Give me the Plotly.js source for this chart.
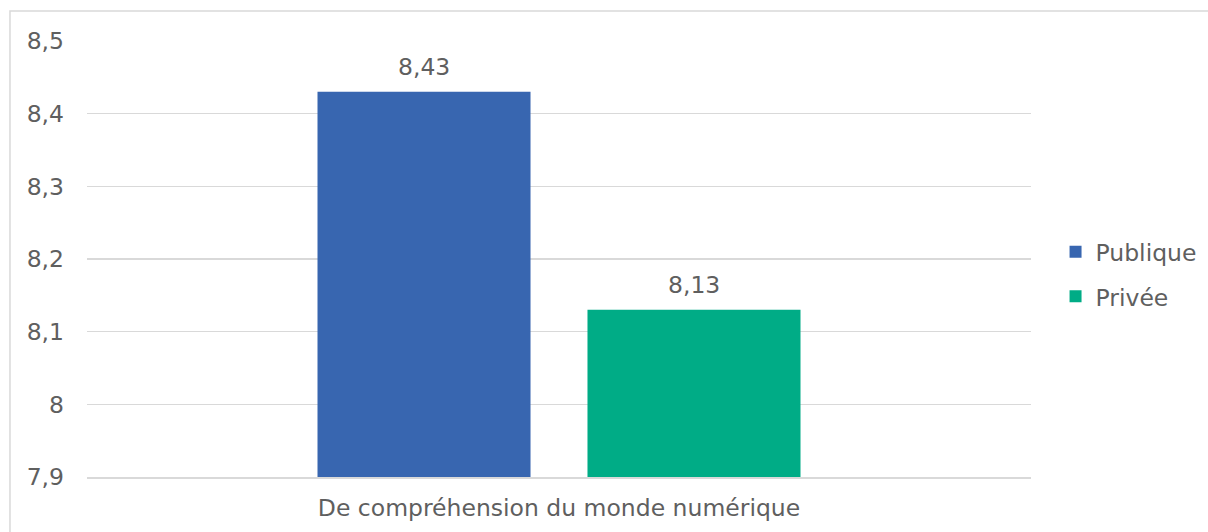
<!DOCTYPE html>
<html><head><meta charset="utf-8">
<script src="https://cdn.plot.ly/plotly-3.0.1.min.js"></script>
<style>html,body{margin:0;padding:0;background:#fff}#chart{width:1208px;height:532px}</style>
</head><body><div id="chart"></div>
<script>
const categories = ["De compréhension du monde numérique"];
const seriesNames = ["Publique", "Privée"];
const publique = [8.43];
const privee = [8.13];
const colors = ["#3866B0", "#00AC86"];
const yTicks = [7.9, 8.0, 8.1, 8.2, 8.3, 8.4, 8.5];
const yTickText = ["7,9", "8", "8,1", "8,2", "8,3", "8,4", "8,5"];

const font = {family: "'DejaVu Sans', sans-serif", size: 23.5, color: "#5f5f5f"};
const values = [publique, privee];
const traces = values.map((v, i) => ({
  type: "bar", name: seriesNames[i], x: categories, y: v, legendgroup: "g" + i,
  marker: {color: colors[i]}, hoverinfo: "skip"
}));
const annotations = [];
values.forEach((v, i) => {
  v.forEach((val, j) => {
    annotations.push({
      x: categories[j], y: val, xref: "x", yref: "y",
      text: val.toFixed(2).replace(".", ","), showarrow: false,
      yanchor: "bottom", yshift: 9, xshift: (i === 0 ? -135 : 135),
      font: font
    });
  });
});
const layout = {
  width: 1208, height: 532,
  margin: {l: 87, r: 177, t: 41, b: 55, autoexpand: false},
  paper_bgcolor: "#fff", plot_bgcolor: "#fff",
  font: font, separators: ",",
  barmode: "group", bargap: 0.428, bargroupgap: 0.211,
  xaxis: {type: "category", showgrid: false, showline: true, linecolor: "#d9d9d9", linewidth: 1.5,
          ticks: "", ticklabelstandoff: 9, tickfont: font, fixedrange: true, automargin: false},
  yaxis: {range: [7.9, 8.5], tickvals: yTicks, ticktext: yTickText, showgrid: true,
          gridcolor: "#d9d9d9", gridwidth: 1.5, zeroline: false, showline: false,
          ticks: "", ticklabelstandoff: 22, tickfont: font, fixedrange: true, automargin: false},
  legend: {x: 1.026, xref: "paper", xanchor: "left", y: 0.4644, yanchor: "middle", font: font,
           itemsizing: "constant", tracegroupgap: 11},
  showlegend: true,
  annotations: annotations,
  shapes: [{type: "rect", xref: "paper", yref: "paper", x0: -0.0816, x1: 1.3, y0: -0.3, y1: 1.0688,
            line: {color: "#d9d9d9", width: 1.5}, fillcolor: "rgba(0,0,0,0)", layer: "below"}]
};
Plotly.newPlot("chart", traces, layout, {displayModeBar: false, staticPlot: true});
</script></body></html>
